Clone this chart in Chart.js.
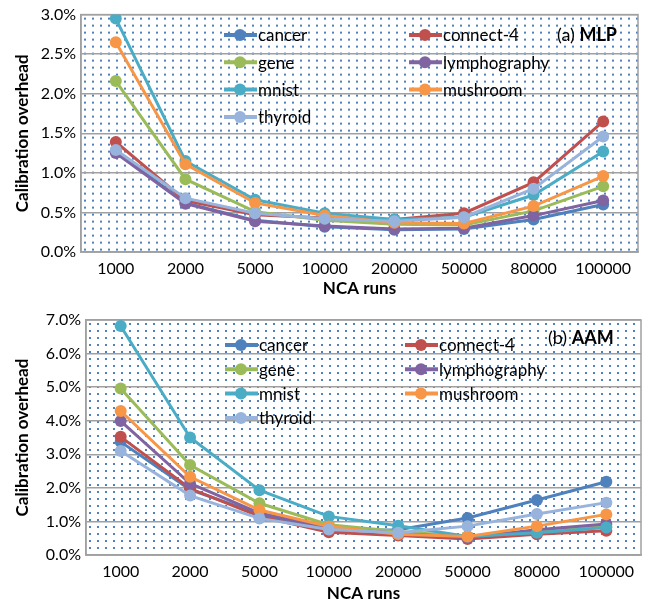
<!DOCTYPE html>
<html>
<head>
<meta charset="utf-8">
<script src="https://cdn.jsdelivr.net/npm/chart.js@4.4.1/dist/chart.umd.min.js"></script>
<style>
  body { margin: 0; background: #fff; }
  canvas { display: block; }
</style>
</head>
<body>
<canvas id="mlpChart" width="652" height="300"></canvas>
<canvas id="aamChart" width="652" height="305"></canvas>
<script>
// categories / series
const runs = ['1000', '2000', '5000', '10000', '20000', '50000', '80000', '100000'];
const seriesNames = ['cancer', 'connect-4', 'gene', 'lymphography', 'mnist', 'mushroom', 'thyroid'];
const seriesColors = ['#4F81BD', '#C0504D', '#9BBB59', '#8064A2', '#4BACC6', '#F79646', '#98B4DC'];

// (a) MLP, calibration overhead in %
const mlpCancer   = [1.27, 0.62, 0.40, 0.32, 0.28, 0.29, 0.41, 0.60];
const mlpConnect4 = [1.39, 0.65, 0.47, 0.43, 0.41, 0.49, 0.88, 1.65];
const mlpGene     = [2.16, 0.92, 0.51, 0.40, 0.35, 0.34, 0.52, 0.83];
const mlpLympho   = [1.25, 0.61, 0.39, 0.33, 0.29, 0.30, 0.46, 0.65];
const mlpMnist    = [2.95, 1.15, 0.66, 0.49, 0.41, 0.44, 0.72, 1.27];
const mlpMushroom = [2.65, 1.11, 0.62, 0.46, 0.37, 0.36, 0.58, 0.96];
const mlpThyroid  = [1.29, 0.68, 0.49, 0.42, 0.39, 0.44, 0.80, 1.46];

// (b) AAM, calibration overhead in %
const aamCancer   = [3.37, 1.95, 1.22, 0.72, 0.75, 1.10, 1.64, 2.18];
const aamConnect4 = [3.52, 1.98, 1.15, 0.68, 0.58, 0.48, 0.62, 0.72];
const aamGene     = [4.96, 2.68, 1.54, 0.90, 0.70, 0.55, 0.70, 0.85];
const aamLympho   = [3.99, 2.13, 1.25, 0.80, 0.65, 0.52, 0.75, 0.92];
const aamMnist    = [6.82, 3.50, 1.93, 1.15, 0.87, 0.55, 0.66, 0.82];
const aamMushroom = [4.29, 2.33, 1.34, 0.85, 0.62, 0.55, 0.86, 1.21];
const aamThyroid  = [3.10, 1.77, 1.09, 0.76, 0.66, 0.86, 1.22, 1.56];

const FONT = 'Lato, "Open Sans", sans-serif';

// dotted pattern that fills the plot area
const dotTile = document.createElement('canvas');
dotTile.width = 8; dotTile.height = 7;
const tctx = dotTile.getContext('2d');
tctx.fillStyle = '#4F81BD';
tctx.fillRect(3, 3, 2, 2);

const plotFrame = {
  id: 'plotFrame',
  beforeDraw(chart) {
    const a = chart.chartArea, c = chart.ctx;
    c.save();
    const pat = c.createPattern(dotTile, 'repeat');
    c.translate(a.left, a.top);
    c.fillStyle = pat;
    c.fillRect(0, 0, a.right - a.left, a.bottom - a.top);
    c.restore();
  },
  beforeDatasetsDraw(chart) {
    const a = chart.chartArea, c = chart.ctx;
    c.save();
    c.strokeStyle = '#A0A0A0';
    c.lineWidth = 1.5;
    c.strokeRect(a.left, a.top, a.right - a.left, a.bottom - a.top);
    c.restore();
  }
};

// legend in two columns inside the plot, plus the panel tag
const insideLegend = {
  id: 'insideLegend',
  afterDraw(chart, args, o) {
    const c = chart.ctx;
    c.save();
    chart.data.datasets.forEach((ds, i) => {
      const col = i % 2, row = Math.floor(i / 2);
      const x = col === 0 ? o.x1 : o.x2;
      const y = o.y0 + row * o.dy;
      c.strokeStyle = ds.borderColor;
      c.lineWidth = 4;
      c.beginPath(); c.moveTo(x, y); c.lineTo(x + 33, y); c.stroke();
      c.fillStyle = ds.borderColor;
      c.beginPath(); c.arc(x + 16, y, 6, 0, Math.PI * 2); c.fill();
      c.fillStyle = '#000';
      c.font = '17px ' + FONT;
      c.textBaseline = 'middle';
      c.textAlign = 'left';
      c.fillText(ds.label, x + 34, y + 1);
    });
    c.font = '18px ' + FONT;
    c.fillText(o.tag + ' ', o.tagX, o.tagY);
    const w = c.measureText(o.tag + ' ').width;
    c.font = 'bold 18px ' + FONT;
    c.fillText(o.name, o.tagX + w, o.tagY);
    c.restore();
  }
};

function makeDatasets(values) {
  return values.map((v, i) => ({
    label: seriesNames[i],
    data: v,
    borderColor: seriesColors[i],
    backgroundColor: seriesColors[i],
    borderWidth: 3,
    pointRadius: 6,
    pointHoverRadius: 6,
    pointBorderWidth: 0,
    tension: 0,
    order: seriesNames.length - i
  }));
}

function makeChart(id, values, yMax, yStep, axisW, padTop, padRight, xAxisH, legend) {
  return new Chart(document.getElementById(id), {
    type: 'line',
    data: { labels: runs, datasets: makeDatasets(values) },
    plugins: [plotFrame, insideLegend],
    options: {
      responsive: false,
      animation: false,
      layout: { padding: { top: padTop, right: padRight, left: 0, bottom: 0 } },
      plugins: {
        legend: { display: false },
        tooltip: { enabled: false },
        insideLegend: legend
      },
      scales: {
        x: {
          offset: true,
          grid: { display: false, drawTicks: false, offset: true },
          border: { color: '#A0A0A0', width: 1.5 },
          ticks: { color: '#000', font: { family: FONT, size: 16 }, padding: 7, maxRotation: 0, autoSkip: false },
          title: { display: true, text: 'NCA runs', color: '#000', font: { family: FONT, size: 17, weight: 'bold' }, padding: { top: 0, bottom: 1 } },
          afterFit(s) { s.height = xAxisH; }
        },
        y: {
          min: 0,
          max: yMax,
          grid: { color: '#A0A0A0', lineWidth: 1.5, drawTicks: false },
          border: { color: '#A0A0A0', width: 1.5 },
          ticks: {
            stepSize: yStep,
            color: '#000',
            padding: 5,
            font: { family: FONT, size: 16 },
            callback: v => v.toFixed(1) + '%'
          },
          title: { display: true, text: 'Calibration overhead', color: '#000', font: { family: FONT, size: 17, weight: 'bold' }, padding: { top: 12, bottom: 0 } },
          afterFit(s) { s.width = axisW; }
        }
      }
    }
  });
}

makeChart('mlpChart',
  [mlpCancer, mlpConnect4, mlpGene, mlpLympho, mlpMnist, mlpMushroom, mlpThyroid],
  3.0, 0.5, 81, 10, 14, 48,
  { x1: 224, x2: 409, y0: 35, dy: 27.3, tag: '(a)', name: 'MLP', tagX: 557, tagY: 35 });

makeChart('aamChart',
  [aamCancer, aamConnect4, aamGene, aamLympho, aamMnist, aamMushroom, aamThyroid],
  7.0, 1.0, 86, 20, 11, 50,
  { x1: 225, x2: 405, y0: 45, dy: 24.3, tag: '(b)', name: 'AAM', tagX: 548, tagY: 38 });
</script>
</body>
</html>
